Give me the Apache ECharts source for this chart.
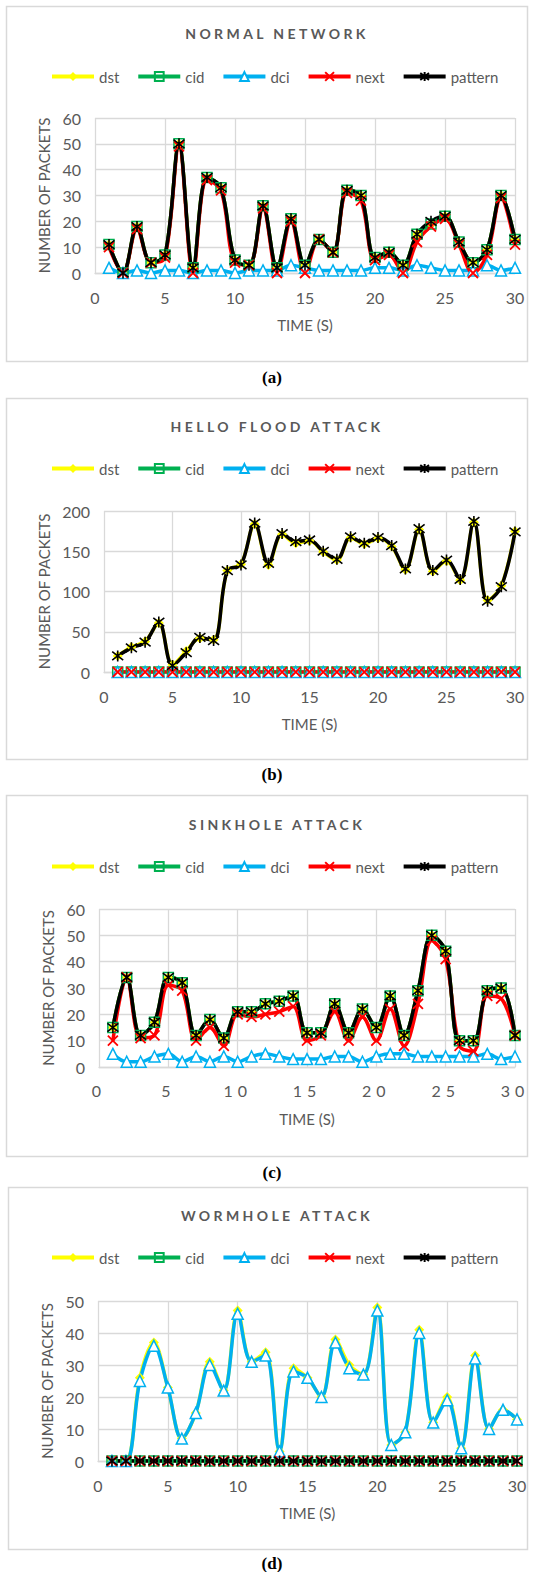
<!DOCTYPE html>
<html>
<head>
<meta charset="utf-8">
<script src="https://cdn.jsdelivr.net/npm/echarts@6/dist/echarts.min.js"></script>
<style>
html,body{margin:0;padding:0;background:#ffffff;}
#chart{width:541px;height:1572px;}
</style>
</head>
<body>
<div id="chart"></div>
<script>
// ---------- data ----------
const timeSeconds = [1,2,3,4,5,6,7,8,9,10,11,12,13,14,15,16,17,18,19,20,21,22,23,24,25,26,27,28,29,30];
const seriesNames = ['dst','cid','dci','next','pattern'];
const xTickValues = [0,5,10,15,20,25,30];

const panelTitles = ['NORMAL NETWORK','HELLO FLOOD ATTACK','SINKHOLE ATTACK','WORMHOLE ATTACK'];
const panelCaptions = ['(a)','(b)','(c)','(d)'];
const yAxisMax = [60, 200, 60, 50];
const yAxisStep = [10, 50, 10, 10];

// (a) normal network
const normalDst     = [11,0,18,4,7,50,2,37,33,5,3,26,2,21,3,13,8,32,30,6,8,3,15,19,22,12,4,9,30,13];
const normalCid     = [11,0,18,4,7,50,2,37,33,5,3,26,2,21,3,13,8,32,30,6,8,3,15,19,22,12,4,9,30,13];
const normalDci     = [2,0,1,0,1,1,0,1,1,0,1,1,1,3,2,1,1,1,1,2,2,1,3,2,1,1,1,3,1,2];
const normalNext    = [10,0,17,4,6,49,0,36,32,4,3,25,0,20,0,13,8,31,28,5,7,0,12,18,21,11,0,7,29,11];
const normalPattern = [11,0,18,4,7,50,2,37,33,5,3,26,2,21,3,13,8,32,30,6,8,3,15,20,22,12,4,9,30,13];

// (b) hello flood attack
const helloDst     = [20,31,38,61,9,26,42,40,126,134,184,133,171,160,163,149,139,167,159,166,156,127,177,125,138,114,186,89,107,175];
const helloCid     = [0,0,0,0,0,0,0,0,0,0,0,0,0,0,0,0,0,0,0,0,0,0,0,0,0,0,0,0,0,0];
const helloDci     = [0,0,0,0,0,0,0,0,0,0,0,0,0,0,0,0,0,0,0,0,0,0,0,0,0,0,0,0,0,0];
const helloNext    = [0,0,0,0,0,0,0,0,0,0,0,0,0,0,0,0,0,0,0,0,0,0,0,0,0,0,0,0,0,0];
const helloPattern = [20,30,37,62,8,24,43,39,126,133,185,135,172,162,164,150,140,168,160,167,157,128,178,126,139,115,187,88,106,174];

// (c) sinkhole attack
const sinkDst     = [15,34,12,17,34,32,12,18,11,21,21,24,25,27,13,13,24,13,22,15,27,12,29,50,44,10,10,29,30,12];
const sinkCid     = [15,34,12,17,34,32,12,18,11,21,21,24,25,27,13,13,24,13,22,15,27,12,29,50,44,10,10,29,30,12];
const sinkDci     = [5,2,2,4,5,2,4,2,4,2,4,5,4,3,3,3,4,4,2,4,5,5,4,4,4,4,4,5,3,4];
const sinkNext    = [10,34,11,12,31,29,10,15,8,20,19,20,21,23,10,12,21,10,19,10,22,8,24,48,41,8,6,27,26,12];
const sinkPattern = [15,34,12,17,34,32,12,18,11,21,21,24,25,27,13,13,24,13,22,15,27,12,29,50,44,10,10,29,30,12];

// (d) wormhole attack
const wormDst     = [0,0,26,37,23,7,15,31,22,47,31,34,3,29,26,20,38,30,27,48,5,9,41,12,20,4,33,10,16,13];
const wormCid     = [0,0,0,0,0,0,0,0,0,0,0,0,0,0,0,0,0,0,0,0,0,0,0,0,0,0,0,0,0,0];
const wormDci     = [0,0,25,36,23,7,15,30,22,46,31,33,3,28,26,20,37,29,27,47,5,9,40,12,19,4,32,10,16,13];
const wormNext    = [0,0,0,0,0,0,0,0,0,0,0,0,0,0,0,0,0,0,0,0,0,0,0,0,0,0,0,0,0,0];
const wormPattern = [0,0,0,0,0,0,0,0,0,0,0,0,0,0,0,0,0,0,0,0,0,0,0,0,0,0,0,0,0,0];

const panelData = [
  [normalDst, normalCid, normalDci, normalNext, normalPattern],
  [helloDst, helloCid, helloDci, helloNext, helloPattern],
  [sinkDst, sinkCid, sinkDci, sinkNext, sinkPattern],
  [wormDst, wormCid, wormDci, wormNext, wormPattern]
];

// ---------- layout (pixels) ----------
const layout = [
  {box:[6,6,361],     titleY:34,   legendY:78,   labelMargin:16, grid:{left:95,  top:118,  width:420, height:155}, captionY:377},
  {box:[6,398,759],   titleY:427,  legendY:470,  labelMargin:16, grid:{left:104, top:511,  width:411, height:161}, captionY:774},
  {box:[6,795,1156],  titleY:825,  legendY:868,  labelMargin:15, grid:{left:99,  top:909,  width:416, height:158}, captionY:1172},
  {box:[8,1187,1549], titleY:1216, legendY:1259, labelMargin:16, grid:{left:98,  top:1301, width:419, height:160}, captionY:1563}
];
const BOX_RIGHT = 527;

const GRID_COLOR = '#D9D9D9';
const TEXT_COLOR = '#595959';
const FONT = 'Lato';

const styleOf = {
  dst:     {color:'#FFFF00', symbol:'diamond', size:10, fill:'#FFFF00', bw:0},
  cid:     {color:'#00B050', symbol:'rect', size:10, fill:'rgba(255,255,255,0)', bw:1.5},
  dci:     {color:'#00B0F0', symbol:'triangle', size:11, fill:'#FFFFFF', bw:1.5},
  next:    {color:'#FF0000', symbol:'path://M0,0L10,10M10,0L0,10', size:10, fill:'rgba(0,0,0,0)', bw:1.8},
  pattern: {color:'#000000', symbol:'path://M0,0L10,10M10,0L0,10M5,-1.5L5,11.5', size:11, fill:'rgba(0,0,0,0)', bw:1.6}
};

const grids = [], xAxes = [], yAxes = [], series = [], legends = [], titles = [], graphics = [];

layout.forEach((L, gi) => {
  grids.push(Object.assign({containLabel:false}, L.grid));
  xAxes.push({
    gridIndex: gi, type:'value', min:0, max:30, interval:5,
    axisLine:{show:true, lineStyle:{color:GRID_COLOR, width:1.3}},
    axisTick:{show:false},
    splitLine:{show:true, lineStyle:{color:GRID_COLOR, width:1.3}},
    axisLabel:{color:TEXT_COLOR, fontSize:16, fontFamily:FONT, margin:L.labelMargin,
               formatter: v => (xTickValues.indexOf(v) >= 0 ? String(v) : '')},
    name:'TIME (S)', nameLocation:'middle', nameGap:44,
    nameTextStyle:{color:TEXT_COLOR, fontSize:15, fontFamily:FONT}
  });
  yAxes.push({
    gridIndex: gi, type:'value', min:0, max:yAxisMax[gi], interval:yAxisStep[gi],
    axisLine:{show:false}, axisTick:{show:false},
    splitLine:{show:true, lineStyle:{color:GRID_COLOR, width:1.3}},
    axisLabel:{color:TEXT_COLOR, fontSize:16, fontFamily:FONT, margin:14},
    name:'NUMBER OF PACKETS', nameLocation:'middle', nameGap:44,
    nameTextStyle:{color:TEXT_COLOR, fontSize:15, fontFamily:FONT}
  });
  seriesNames.forEach((nm, si) => {
    const st = styleOf[nm];
    const vals = panelData[gi][si];
    series.push({
      name: nm, type:'line', xAxisIndex:gi, yAxisIndex:gi,
      data: timeSeconds.map((t, i) => [t, vals[i]]),
      smooth: 0.35,
      symbol: st.symbol, symbolSize: st.size, showSymbol:true,
      lineStyle:{color:st.color, width:3.5},
      itemStyle:{color:st.fill, borderColor:st.color, borderWidth:st.bw},
      emphasis:{disabled:true},
      animation:false
    });
  });
  legends.push({
    data: seriesNames, top: L.legendY - 9, left: 50, padding:0,
    itemWidth:42, itemHeight:11, itemGap:17,
    lineStyle:{width:4},
    textStyle:{color:TEXT_COLOR, fontSize:15, fontFamily:FONT},
    selectedMode:false
  });
  titles.push({
    text: panelTitles[gi], left: 277, top: L.titleY - 8, textAlign:'center', padding:0,
    textStyle:{color:TEXT_COLOR, fontSize:14, fontWeight:'bold', fontFamily:FONT}
  });
  graphics.push({
    type:'rect', silent:true, z:-10,
    shape:{x:L.box[0]+0.5, y:L.box[1]+0.5, width:BOX_RIGHT-L.box[0], height:L.box[2]-L.box[1]},
    style:{fill:'none', stroke:GRID_COLOR, lineWidth:1.5}
  });
  graphics.push({
    type:'text', silent:true, x:272, y:L.captionY,
    style:{text:panelCaptions[gi], fill:'#000000', font:'bold 17px "Liberation Serif"',
           align:'center', verticalAlign:'middle'}
  });
});

const chart = echarts.init(document.getElementById('chart'), null, {renderer:'svg', width:541, height:1572});
chart.setOption({
  backgroundColor:'#ffffff',
  animation:false,
  title: titles,
  legend: legends,
  grid: grids,
  xAxis: xAxes,
  yAxis: yAxes,
  series: series,
  graphic: graphics
});

// letter spacing like the original (title text and panel (c) x tick labels)
function applySpacing(){
  const nodes = document.querySelectorAll('#chart svg text');
  nodes.forEach(n => {
    const s = n.textContent;
    if (panelTitles.indexOf(s) >= 0) {
      n.style.letterSpacing = '3.4px';
    } else {
      const r = n.getBoundingClientRect();
      if (r.top > 1076 && r.top < 1100 && /^\d+$/.test(s)) n.style.letterSpacing = '5px';
    }
  });
}
applySpacing();
chart.on('finished', applySpacing);
</script>
</body>
</html>
